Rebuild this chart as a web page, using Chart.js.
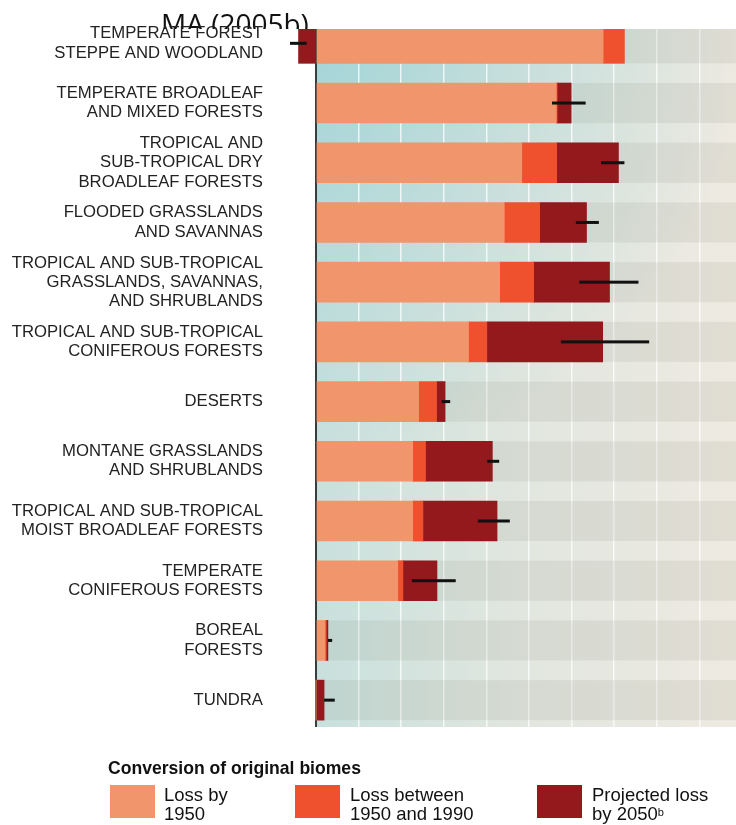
<!DOCTYPE html>
<html><head><meta charset="utf-8">
<script src="https://cdn.jsdelivr.net/npm/chart.js@4.4.1/dist/chart.umd.min.js"></script>
<style>
html,body{margin:0;padding:0;background:#fff;}
#wrap{position:relative;width:736px;height:825px;overflow:hidden;}
#c{position:absolute;left:0;top:0;}
.lg{position:absolute;font-family:"Liberation Sans",Arial,sans-serif;color:#111;white-space:nowrap;}
.lg sup{font-size:60%;vertical-align:top;position:relative;top:-1px;}
.box{position:absolute;}
</style></head><body>
<div id="wrap">
<canvas id="c" width="736" height="760"></canvas>
<div class="lg" id="lgTitle" style="left:108px;top:758px;font-weight:bold;font-size:18.5px;line-height:19px;transform:scaleX(0.95);transform-origin:0 0;"></div>
</div>
<script>
// ---- data ----
const chartTitle = "MA (2005b)";
const legendTitle = "Conversion of original biomes";
const categories = [
  ["TEMPERATE FOREST","STEPPE AND WOODLAND"],
  ["TEMPERATE BROADLEAF","AND MIXED FORESTS"],
  ["TROPICAL AND","SUB-TROPICAL DRY","BROADLEAF FORESTS"],
  ["FLOODED GRASSLANDS","AND SAVANNAS"],
  ["TROPICAL AND SUB-TROPICAL","GRASSLANDS, SAVANNAS,","AND SHRUBLANDS"],
  ["TROPICAL AND SUB-TROPICAL","CONIFEROUS FORESTS"],
  ["DESERTS"],
  ["MONTANE GRASSLANDS","AND SHRUBLANDS"],
  ["TROPICAL AND SUB-TROPICAL","MOIST BROADLEAF FORESTS"],
  ["TEMPERATE","CONIFEROUS FORESTS"],
  ["BOREAL","FORESTS"],
  ["TUNDRA"]
];
const seriesNames = [["Loss by","1950"],["Loss between","1950 and 1990"],["Projected loss","by 2050"]];
const seriesNotes = ["","","b"];
const seriesColors = ["#f1966c","#ef512f","#94191d"];
const lossBy1950     = [67.4, 56.4, 48.3, 44.2, 43.1, 35.8, 24.1, 22.7, 22.7, 19.2, 2.1, 0];
const loss1950to1990 = [ 5.0,  0.2,  8.2,  8.3,  8.0,  4.3,  4.2,  3.0,  2.4,  1.2, 0.3, 0];
const projected2050  = [-4.1,  3.3, 14.5, 11.0, 17.8, 27.2,  2.0, 15.7, 17.4,  8.0, 0.4, 1.9];
const errLow  = [-6.1, 55.4, 66.9, 61.0, 61.8, 57.5, 29.5, 40.2, 38.0, 22.5, 2.8, 1.9];
const errHigh = [-2.2, 63.3, 72.4, 66.4, 75.7, 78.2, 31.5, 43.0, 45.5, 32.8, 3.8, 4.4];
const gridTicks = [0,10,20,30,40,50,60,70,80,90];

// ---- chart ----
const seriesValues = [lossBy1950, loss1950to1990, projected2050];
const datasets = seriesValues.map((vals, s) => ({
  label: seriesNames[s].join(" "),
  data: vals.map((v, i) => ({x: v, y: i})),
  backgroundColor: seriesColors[s],
  borderWidth: 0,
  barThickness: 40
}));

const bgPlugin = {
  id: 'bg',
  beforeDraw(chart) {
    const {ctx, chartArea: a, scales: {x}} = chart;
    ctx.save();
    ctx.fillStyle = '#fff';
    ctx.fillRect(0, 0, chart.width, chart.height);
    ctx.fillStyle = '#111';
    ctx.font = '28px "Open Sans", "Noto Sans", sans-serif';
    ctx.textBaseline = 'alphabetic';
    ctx.fillText(chartTitle, 161, 34);
    ctx.fillStyle = '#fff';
    ctx.fillRect(0, a.top, chart.width, chart.height - a.top);
    const x0 = x.getPixelForValue(0);
    const w = a.right - x0, h = a.bottom - a.top;
    const g = ctx.createLinearGradient(x0, 0, a.right, 0);
    g.addColorStop(0, '#c8e0dd');
    g.addColorStop(0.45, '#e0e6df');
    g.addColorStop(1, '#eeeae1');
    ctx.fillStyle = g;
    ctx.fillRect(x0, a.top, w, h);
    const r = ctx.createRadialGradient(x0, a.top, 0, x0, a.top, 430);
    r.addColorStop(0, 'rgba(140,205,212,0.6)');
    r.addColorStop(1, 'rgba(140,205,212,0)');
    ctx.fillStyle = r;
    ctx.fillRect(x0, a.top, w, h);
    ctx.restore();
  },
  beforeDatasetsDraw(chart) {
    const {ctx, chartArea: a, scales: {x, y}} = chart;
    const x0 = x.getPixelForValue(0);
    const meta = chart.getDatasetMeta(0);
    ctx.save();
    ctx.beginPath(); ctx.rect(a.left, a.top, a.right - a.left, a.bottom - a.top); ctx.clip();
    ctx.fillStyle = 'rgba(120,115,100,0.11)';
    categories.forEach((c, i) => {
      const yc = y.getPixelForValue(i);
      const bh = meta.data[i].height || 40;
      ctx.fillRect(x0 + 1, yc - bh / 2, a.right - x0 - 1, bh);
    });
    ctx.restore();
  },
  afterDatasetsDraw(chart) {
    const {ctx, scales: {x, y}} = chart;
    ctx.save();
    ctx.fillStyle = '#111';
    categories.forEach((c, i) => {
      const yc = y.getPixelForValue(i);
      const xl = x.getPixelForValue(errLow[i]);
      const xh = x.getPixelForValue(errHigh[i]);
      ctx.fillRect(xl, yc - 1.5, xh - xl, 3);
    });
    ctx.restore();
  }
};

new Chart(document.getElementById('c'), {
  type: 'bar',
  data: { datasets },
  plugins: [bgPlugin],
  options: {
    responsive: false,
    animation: false,
    indexAxis: 'y',
    layout: { padding: { top: 29, bottom: 33, left: 0, right: 0 } },
    plugins: { legend: { display: false }, tooltip: { enabled: false }, title: { display: false } },
    scales: {
      x: {
        type: 'linear', min: -7.04, max: 98.59, stacked: true, bounds: 'data',
        afterBuildTicks: s => { s.ticks = gridTicks.map(v => ({value: v})); },
        afterFit: s => { s.height = 0; s.paddingLeft = 0; s.paddingRight = 0; },
        ticks: { display: false },
        border: { display: false },
        grid: {
          drawTicks: false,
          color: ctx => ctx.tick && ctx.tick.value === 0 ? '#3a3d3d' : 'rgba(255,255,255,0.75)',
          lineWidth: ctx => ctx.tick && ctx.tick.value === 0 ? 2 : 1.5
        }
      },
      y: {
        type: 'linear', reverse: true, min: -0.24, max: 11.45, stacked: true, bounds: 'data',
        offset: false,
        afterBuildTicks: s => { s.ticks = categories.map((c, i) => ({value: i})); },
        afterFit: s => { s.width = 286; s.paddingTop = 0; s.paddingBottom = 0; },
        grid: { display: false, drawTicks: false, offset: false },
        border: { display: false },
        ticks: {
          autoSkip: false,
          padding: 23,
          color: '#222',
          font: { family: '"Liberation Sans", Arial, sans-serif', size: 16.7, lineHeight: 1.15 },
          callback: v => categories[v]
        }
      }
    }
  }
});

// ---- legend (HTML) ----
const wrap = document.getElementById('wrap');
document.getElementById('lgTitle').textContent = legendTitle;
const boxLeft = [110, 295, 537];
const textLeft = [164, 350, 592];
seriesNames.forEach((lines, s) => {
  const b = document.createElement('div');
  b.className = 'box';
  b.style.cssText = `left:${boxLeft[s]}px;top:785px;width:45px;height:33px;background:${seriesColors[s]};`;
  wrap.appendChild(b);
  const t = document.createElement('div');
  t.className = 'lg';
  t.style.cssText = `left:${textLeft[s]}px;top:785px;font-size:18.5px;line-height:19px;`;
  lines.forEach((ln, k) => {
    const d = document.createElement('div');
    d.textContent = ln;
    if (k === lines.length - 1 && seriesNotes[s]) {
      const sp = document.createElement('sup');
      sp.textContent = seriesNotes[s];
      d.appendChild(sp);
    }
    t.appendChild(d);
  });
  wrap.appendChild(t);
});
</script>
</body></html>
